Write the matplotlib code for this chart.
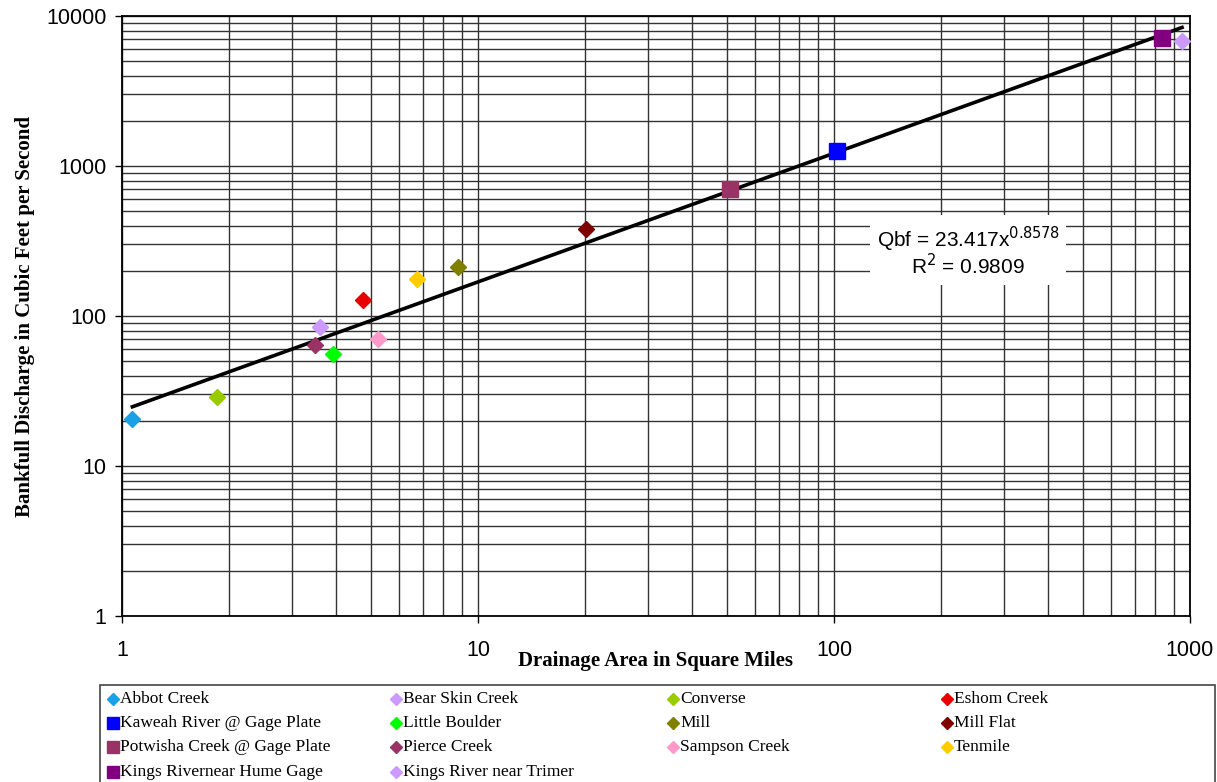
import numpy as np
import matplotlib.pyplot as plt
from matplotlib.lines import Line2D
from matplotlib.patches import Rectangle
from matplotlib.ticker import LogLocator, NullFormatter

# drainage area (sq mi) and bankfull discharge (cfs) per site
sites = ['Abbot Creek', 'Bear Skin Creek', 'Converse', 'Eshom Creek',
         'Kaweah River @ Gage Plate', 'Little Boulder', 'Mill', 'Mill Flat',
         'Potwisha Creek @ Gage Plate', 'Pierce Creek', 'Sampson Creek', 'Tenmile',
         'Kings Rivernear Hume Gage', 'Kings River near Trimer']
area = [1.07, 3.6, 1.85, 4.75, 102, 3.91, 8.79, 20.1, 51, 3.48, 5.24, 6.74, 834, 950]
flow = [20.6, 84.5, 28.8, 128, 1260, 55.8, 212, 380, 700, 64, 70, 176, 7130, 6810]
colors = ['#1aa0e6', '#cc99ff', '#99cc00', '#e60000', '#0000ff', '#00ff00', '#808000',
          '#800000', '#993366', '#993366', '#ff99cc', '#ffcc00', '#800080', '#cc99ff']
markers = ['D', 'D', 'D', 'D', 's', 'D', 'D', 'D', 's', 'D', 'D', 'D', 's', 'D']

# power-law fit
coef = 23.417
expo = 0.8578
r2 = 0.9809
fit_x = np.logspace(np.log10(1.07), np.log10(950), 200)

W, H = 1217, 782
fig = plt.figure(figsize=(W / 100, H / 100), dpi=100)
ax = fig.add_axes([0.1002, 0.2123, 0.8776, 0.7672])

for name, xv, yv, c, m in zip(sites, area, flow, colors, markers):
    ax.plot([xv], [yv], ls='none', marker=m, color=c,
            markersize=8 if m == 'D' else 11, label=name, zorder=4)

ax.plot(fit_x, coef * fit_x ** expo, color='black', lw=2.6, zorder=3)

ax.set_xscale('log')
ax.set_yscale('log')
ax.set_xlim(1, 1000)
ax.set_ylim(1, 10000)

ax.xaxis.set_minor_locator(LogLocator(base=10, subs=np.arange(2, 10)))
ax.yaxis.set_minor_locator(LogLocator(base=10, subs=np.arange(2, 10)))
ax.xaxis.set_minor_formatter(NullFormatter())
ax.yaxis.set_minor_formatter(NullFormatter())
ax.set_xticks([1, 10, 100, 1000])
ax.set_xticklabels(['1', '10', '100', '1000'])
ax.set_yticks([1, 10, 100, 1000, 10000])
ax.set_yticklabels(['1', '10', '100', '1000', '10000'])
ax.grid(True, which='both', color='#333333', lw=1.0)
ax.set_axisbelow(True)
ax.tick_params(which='minor', length=0)
ax.tick_params(which='major', length=5, width=1, direction='out', labelsize=15.5,
               pad=6, colors='black')
ax.tick_params(axis='x', pad=12)
for lab in ax.get_xticklabels() + ax.get_yticklabels():
    lab.set_family('Liberation Sans')
for s in ax.spines.values():
    s.set_color('black')
    s.set_linewidth(1.3)

ax.set_xlabel('Drainage Area in Square Miles', family='Liberation Serif',
              fontweight='bold', fontsize=15, labelpad=-7)
ax.set_ylabel('Bankfull Discharge in Cubic Feet per Second', family='Liberation Serif',
              fontweight='bold', fontsize=15, labelpad=8)

ax.text(0.792, 0.607, 'Qbf = %.3fx$^{%.4f}$\nR$^2$ = %.4f' % (coef, expo, r2),
        transform=ax.transAxes, ha='center', va='center', fontsize=15,
        family='Liberation Sans', linespacing=0.95,
        bbox=dict(facecolor='white', edgecolor='none', pad=5), zorder=5)

# legend box below the plot, 4 columns laid out row by row
fig.add_artist(Rectangle((100 / W, -0.01), 1115 / W, 1 - 685 / H - (-0.01),
                         transform=fig.transFigure, facecolor='white',
                         edgecolor='#444444', lw=1.2))
col_x = [113, 396, 673, 947]
row_y = [699, 723, 747, 772]
for i, (name, c, m) in enumerate(zip(sites, colors, markers)):
    px = col_x[i % 4]
    py = row_y[i // 4]
    fig.add_artist(Line2D([px / W], [1 - py / H], transform=fig.transFigure,
                          ls='none', marker=m, color=c,
                          markersize=6 if m == 'D' else 8))
    fig.text((px + 7) / W, 1 - py / H, name, ha='left', va='center',
             family='Liberation Serif', fontsize=12.5)

fig.savefig('out.png', dpi=100)
